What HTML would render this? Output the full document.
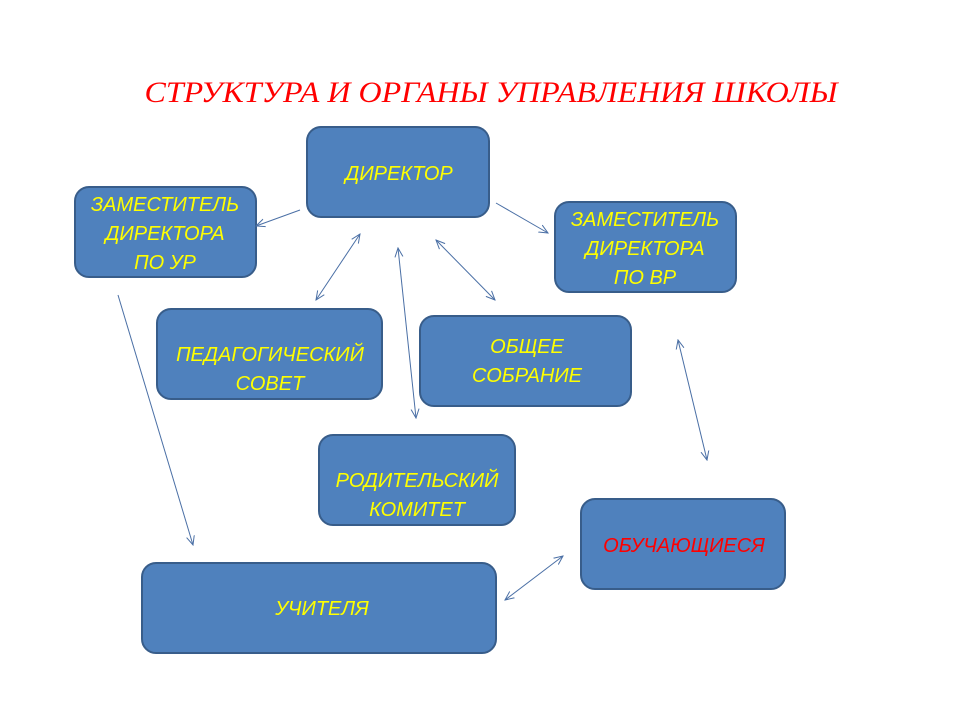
<!DOCTYPE html>
<html><head><meta charset="utf-8"><style>
html,body{margin:0;padding:0;background:#fff;}
svg{display:block;}
.l{font-family:"Liberation Sans",sans-serif;font-style:italic;font-size:20px;fill:#ffff00;text-anchor:middle;white-space:pre;}
</style></head><body>
<svg width="960" height="720" viewBox="0 0 960 720" xmlns="http://www.w3.org/2000/svg">
<defs>
<marker id="a" viewBox="0 0 10 10" refX="9" refY="5" markerWidth="10" markerHeight="10" orient="auto-start-reverse" markerUnits="userSpaceOnUse">
<path d="M0,1 L9,5 L0,9" fill="none" stroke="#4a6fa5" stroke-width="1"/>
</marker>
</defs>
<text x="491" y="102" font-family="Liberation Serif,serif" font-style="italic" font-size="30" fill="#ff0000" text-anchor="middle" textLength="693" lengthAdjust="spacingAndGlyphs">СТРУКТУРА И ОРГАНЫ УПРАВЛЕНИЯ ШКОЛЫ</text>
<g fill="#4f81bd" stroke="#385d8a" stroke-width="2">
<rect x="307" y="127" width="182" height="90" rx="14"/>
<rect x="75" y="187" width="181" height="90" rx="14"/>
<rect x="555" y="202" width="181" height="90" rx="14"/>
<rect x="157" y="309" width="225" height="90" rx="14"/>
<rect x="420" y="316" width="211" height="90" rx="14"/>
<rect x="319" y="435" width="196" height="90" rx="14"/>
<rect x="581" y="499" width="204" height="90" rx="14"/>
<rect x="142" y="563" width="354" height="90" rx="14"/>
</g>
<g class="l">
<text x="399" y="180">ДИРЕКТОР</text>
<text x="165" y="211">ЗАМЕСТИТЕЛЬ</text><text x="165" y="240">ДИРЕКТОРА</text><text x="165" y="269">ПО  УР</text>
<text x="645" y="226">ЗАМЕСТИТЕЛЬ</text><text x="645" y="255">ДИРЕКТОРА</text><text x="645" y="284">ПО  ВР</text>
<text x="270" y="361">ПЕДАГОГИЧЕСКИЙ</text><text x="270" y="390">СОВЕТ</text>
<text x="527" y="353">ОБЩЕЕ</text><text x="527" y="382">СОБРАНИЕ</text>
<text x="417" y="487">РОДИТЕЛЬСКИЙ</text><text x="417" y="516">КОМИТЕТ</text>
<text x="684" y="552" style="fill:#ff0000">ОБУЧАЮЩИЕСЯ</text>
<text x="322" y="615">УЧИТЕЛЯ</text>
</g>
<g stroke="#4a6fa5" stroke-width="1" fill="none">
<line x1="300" y1="210" x2="256" y2="226" marker-end="url(#a)"/>
<line x1="496" y1="203" x2="548" y2="233" marker-end="url(#a)"/>
<line x1="360" y1="234" x2="316" y2="300" marker-start="url(#a)" marker-end="url(#a)"/>
<line x1="118" y1="295" x2="193" y2="545" marker-end="url(#a)"/>
<line x1="398" y1="248" x2="416" y2="418" marker-start="url(#a)" marker-end="url(#a)"/>
<line x1="436" y1="240" x2="495" y2="300" marker-start="url(#a)" marker-end="url(#a)"/>
<line x1="678" y1="340" x2="707" y2="460" marker-start="url(#a)" marker-end="url(#a)"/>
<line x1="563" y1="556" x2="505" y2="600" marker-start="url(#a)" marker-end="url(#a)"/>
</g>
</svg>
</body></html>
